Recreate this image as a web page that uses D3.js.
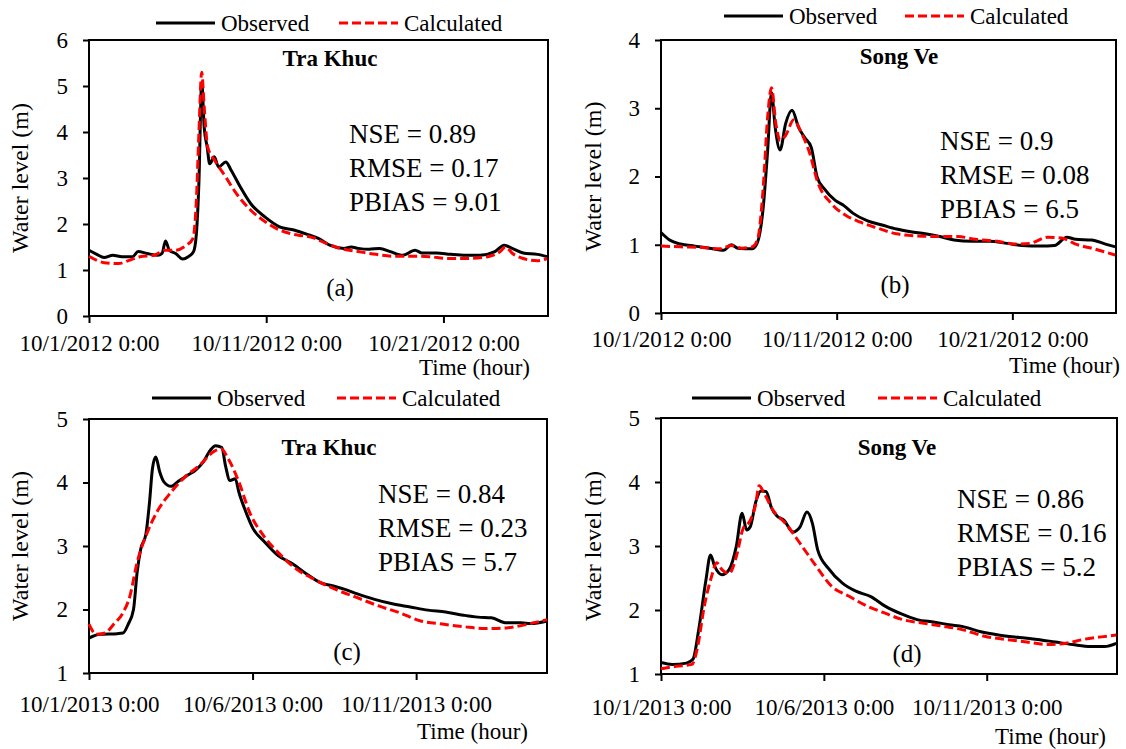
<!DOCTYPE html>
<html>
<head>
<meta charset="utf-8">
<script src="https://cdn.jsdelivr.net/npm/d3@7"></script>
<style>
  body { margin: 0; background: #fff; }
  text { font-family: "Liberation Serif", "Times New Roman", serif; fill: #000; }
</style>
</head>
<body>
<div id="chart"></div>
<script>
// day offset from start, water level (m)
const obsA = [[0,1.43],[0.44,1.34],[0.85,1.27],[1.35,1.32],[1.86,1.29],[2.46,1.29],[2.77,1.4],[3.27,1.36],[3.88,1.32],[4.12,1.36],[4.32,1.63],[4.53,1.43],[4.89,1.36],[5.29,1.24],[5.6,1.29],[5.9,1.4],[6.06,1.79],[6.2,2.88],[6.36,5.08],[6.5,4.1],[6.67,3.67],[6.81,3.31],[7.07,3.46],[7.31,3.24],[7.72,3.35],[8.02,3.17],[8.53,2.81],[9.13,2.44],[9.94,2.15],[10.75,1.94],[11.56,1.87],[12.36,1.77],[12.97,1.68],[13.58,1.54],[14.38,1.47],[14.79,1.5],[15.19,1.47],[15.8,1.45],[16.4,1.47],[17.0,1.4],[17.7,1.32],[18.4,1.43],[18.8,1.37],[19.6,1.37],[20.4,1.34],[21.25,1.32],[22.06,1.32],[22.9,1.4],[23.43,1.54],[23.88,1.47],[24.5,1.37],[25.3,1.34],[25.85,1.29]];
const calA = [[0,1.3],[0.85,1.16],[1.66,1.14],[2.26,1.21],[2.87,1.29],[3.68,1.32],[4.28,1.43],[4.89,1.43],[5.5,1.54],[5.86,1.68],[6.06,2.52],[6.2,3.96],[6.36,5.3],[6.5,4.54],[6.7,3.67],[7.1,3.38],[7.72,3.02],[8.32,2.66],[9.13,2.3],[9.94,2.05],[10.75,1.87],[11.76,1.76],[12.57,1.71],[13.37,1.58],[14.38,1.45],[15.19,1.4],[16.2,1.34],[17.2,1.3],[18.2,1.3],[19.2,1.29],[20.2,1.25],[21.25,1.25],[22.5,1.29],[23.2,1.4],[23.5,1.5],[23.9,1.36],[24.5,1.25],[25.3,1.2],[25.85,1.25]];

const obsB = [[0,1.18],[0.49,1.07],[1.1,1.01],[1.93,0.98],[2.75,0.95],[3.57,0.92],[4.0,1.0],[4.38,0.95],[5.2,0.94],[5.5,1.04],[5.82,1.55],[6.07,2.38],[6.29,3.23],[6.5,2.72],[6.78,2.39],[7.09,2.77],[7.46,2.97],[7.83,2.72],[8.18,2.57],[8.55,2.43],[8.89,1.99],[9.3,1.82],[9.92,1.65],[10.43,1.57],[10.94,1.46],[11.76,1.35],[12.58,1.29],[13.4,1.23],[14.22,1.19],[15.04,1.16],[15.86,1.12],[16.68,1.07],[17.7,1.05],[18.7,1.05],[19.7,1.02],[20.55,0.99],[21.6,0.98],[22.4,0.99],[23.1,1.11],[23.6,1.08],[24.5,1.07],[25.3,1.01],[25.85,0.97]];
const calB = [[0,0.98],[1.1,0.97],[2.34,0.96],[3.36,0.94],[4.0,0.99],[4.59,0.95],[5.2,0.97],[5.5,1.08],[5.82,1.84],[6.07,2.87],[6.29,3.3],[6.54,2.77],[6.78,2.53],[7.09,2.6],[7.56,2.83],[7.97,2.65],[8.48,2.33],[8.89,1.94],[9.71,1.6],[10.53,1.43],[11.35,1.33],[12.37,1.24],[13.4,1.16],[14.6,1.13],[15.86,1.12],[16.9,1.12],[17.9,1.08],[19.15,1.05],[20.2,1.01],[21.0,1.02],[22.0,1.11],[22.8,1.1],[23.6,1.01],[24.65,0.94],[25.85,0.85]];

const obsC = [[0,1.55],[0.33,1.61],[0.87,1.62],[1.04,1.63],[1.2,1.77],[1.36,2.0],[1.47,2.58],[1.58,2.95],[1.74,3.19],[1.85,3.69],[1.94,4.22],[2.04,4.4],[2.16,4.17],[2.29,4.01],[2.51,3.94],[2.73,4.02],[3.0,4.11],[3.27,4.2],[3.49,4.32],[3.71,4.51],[3.87,4.58],[4.06,4.55],[4.17,4.27],[4.31,4.03],[4.47,4.06],[4.58,3.85],[4.8,3.53],[5.02,3.27],[5.34,3.08],[5.78,2.85],[6.22,2.72],[6.65,2.56],[7.09,2.42],[7.47,2.37],[7.8,2.32],[8.18,2.25],[8.73,2.16],[9.27,2.09],[9.82,2.04],[10.36,1.99],[10.9,1.96],[11.45,1.91],[11.89,1.88],[12.3,1.87],[12.76,1.79],[13.2,1.79],[13.5,1.78],[14.0,1.82]];
const calC = [[0,1.77],[0.22,1.61],[0.49,1.63],[0.76,1.77],[1.04,1.95],[1.25,2.21],[1.47,2.74],[1.74,3.16],[2.07,3.53],[2.51,3.85],[2.94,4.09],[3.38,4.27],[3.82,4.49],[4.04,4.53],[4.25,4.38],[4.58,4.01],[4.91,3.53],[5.34,3.16],[5.78,2.9],[6.33,2.64],[6.87,2.48],[7.52,2.32],[8.18,2.19],[8.83,2.06],[9.49,1.95],[10.14,1.82],[10.8,1.77],[11.45,1.73],[12.1,1.7],[12.76,1.71],[13.42,1.77],[14.0,1.84]];

const obsD = [[0,1.18],[0.35,1.15],[0.78,1.17],[0.98,1.23],[1.16,1.7],[1.38,2.47],[1.52,2.86],[1.65,2.68],[1.87,2.55],[2.09,2.63],[2.31,2.99],[2.49,3.51],[2.63,3.25],[2.74,3.3],[2.91,3.69],[3.07,3.86],[3.23,3.85],[3.39,3.6],[3.56,3.47],[3.78,3.4],[4.05,3.22],[4.27,3.3],[4.48,3.53],[4.65,3.35],[4.81,2.94],[5.14,2.65],[5.57,2.42],[6.0,2.29],[6.44,2.21],[6.88,2.06],[7.42,1.93],[7.86,1.85],[8.4,1.81],[8.84,1.77],[9.27,1.74],[9.82,1.66],[10.36,1.61],[11.01,1.57],[11.56,1.54],[12.1,1.5],[12.64,1.46],[13.19,1.43],[13.62,1.43],[13.98,1.48]];
const calD = [[0,1.08],[0.46,1.12],[0.95,1.15],[1.11,1.39],[1.33,2.06],[1.55,2.52],[1.71,2.74],[1.87,2.63],[2.09,2.57],[2.31,2.83],[2.52,3.27],[2.74,3.4],[2.91,3.66],[3.01,3.94],[3.18,3.81],[3.45,3.55],[3.83,3.35],[4.27,3.04],[4.7,2.73],[5.24,2.37],[5.79,2.21],[6.33,2.06],[6.88,1.95],[7.42,1.85],[7.97,1.8],[8.62,1.75],[9.27,1.69],[9.93,1.59],[10.58,1.54],[11.23,1.5],[11.88,1.46],[12.43,1.48],[12.97,1.54],[13.52,1.58],[13.98,1.61]];

const stations = ["Tra Khuc", "Song Ve", "Tra Khuc", "Song Ve"];
const panelLabels = ["(a)", "(b)", "(c)", "(d)"];
const statsText = [
  ["NSE = 0.89", "RMSE = 0.17", "PBIAS = 9.01"],
  ["NSE = 0.9", "RMSE = 0.08", "PBIAS = 6.5"],
  ["NSE = 0.84", "RMSE = 0.23", "PBIAS = 5.7"],
  ["NSE = 0.86", "RMSE = 0.16", "PBIAS = 5.2"]
];
const startDates = [new Date(2012, 9, 1), new Date(2012, 9, 1), new Date(2013, 9, 1), new Date(2013, 9, 1)];
const spanDays = [25.9, 25.9, 14, 14];
const tickDays = [[0, 10, 20], [0, 10, 20], [0, 5, 10], [0, 5, 10]];
const yDomains = [[0, 6], [0, 4], [1, 5], [1, 5]];

const DAY = 864e5;
const W = 1126, H = 749;

const svg = d3.select("#chart").append("svg")
    .attr("width", W)
    .attr("height", H);

// layout of each panel (pixels)
const panels = [
  { l: 89, r: 548, t: 40, b: 316, xPad: 12, obs: obsA, cal: calA, legY: 23, legObs: 156, legCal: 339,
    titleX: 330, titleY: 66, statX: 349, statY: 143, labX: 340, labY: 296, timeX: 530, timeY: 375, ylabX: 20 },
  { l: 661, r: 1116, t: 40, b: 313, xPad: 11, obs: obsB, cal: calB, legY: 16, legObs: 724, legCal: 905,
    titleX: 899, titleY: 64, statX: 940, statY: 150, labX: 895, labY: 293, timeX: 1120, timeY: 373, ylabX: 593 },
  { l: 89, r: 547, t: 419, b: 673, xPad: 16, obs: obsC, cal: calC, legY: 398, legObs: 152, legCal: 337,
    titleX: 329, titleY: 455, statX: 378, statY: 503, labX: 347, labY: 660, timeX: 528, timeY: 739, ylabX: 20 },
  { l: 661, r: 1117, t: 418, b: 674, xPad: 18, obs: obsD, cal: calD, legY: 398, legObs: 692, legCal: 878,
    titleX: 897, titleY: 455, statX: 957, statY: 508, labX: 907, labY: 662, timeX: 1106, timeY: 744, ylabX: 593 }
];

const fmt = d3.timeFormat("%-m/%-d/%Y %-H:%M");

panels.forEach((p, i) => {
    const start = startDates[i];
    const toDate = d => new Date(start.getTime() + d * DAY);

    const x = d3.scaleTime()
        .domain([start, toDate(spanDays[i])])
        .range([p.l, p.r]);
    const y = d3.scaleLinear()
        .domain(yDomains[i])
        .range([p.b, p.t]);

    const g = svg.append("g");

    // y axis
    const yAxis = g.append("g")
        .attr("transform", `translate(${p.l},0)`)
        .call(d3.axisLeft(y).ticks(yDomains[i][1] - yDomains[i][0]).tickSize(6).tickPadding(15).tickFormat(d3.format("d")));
    yAxis.select(".domain").remove();
    yAxis.selectAll("line").attr("stroke-width", 2);
    yAxis.selectAll("text").attr("font-size", 23);

    // x axis
    const xAxis = g.append("g")
        .attr("transform", `translate(0,${p.b})`)
        .call(d3.axisBottom(x).tickValues(tickDays[i].map(toDate)).tickSize(7).tickPadding(p.xPad).tickFormat(fmt));
    xAxis.select(".domain").remove();
    xAxis.selectAll("line").attr("stroke-width", 2);
    xAxis.selectAll("text").attr("font-size", 23);

    // frame
    g.append("rect")
        .attr("x", p.l).attr("y", p.t)
        .attr("width", p.r - p.l).attr("height", p.b - p.t)
        .attr("fill", "none").attr("stroke", "#000").attr("stroke-width", 2);

    const line = d3.line()
        .x(d => x(toDate(d[0])))
        .y(d => y(d[1]))
        .curve(d3.curveMonotoneX);

    g.append("path")
        .datum(p.obs)
        .attr("d", line)
        .attr("fill", "none")
        .attr("stroke", "#000")
        .attr("stroke-width", 3);

    g.append("path")
        .datum(p.cal)
        .attr("d", line)
        .attr("fill", "none")
        .attr("stroke", "#ff0000")
        .attr("stroke-width", 3)
        .attr("stroke-dasharray", "9,4");

    // legend
    g.append("line")
        .attr("x1", p.legObs).attr("x2", p.legObs + 59)
        .attr("y1", p.legY).attr("y2", p.legY)
        .attr("stroke", "#000").attr("stroke-width", 3);
    g.append("text")
        .attr("x", p.legObs + 65).attr("y", p.legY + 8)
        .attr("font-size", 23)
        .text("Observed");
    g.append("line")
        .attr("x1", p.legCal).attr("x2", p.legCal + 59)
        .attr("y1", p.legY).attr("y2", p.legY)
        .attr("stroke", "#ff0000").attr("stroke-width", 3)
        .attr("stroke-dasharray", "9,4");
    g.append("text")
        .attr("x", p.legCal + 65).attr("y", p.legY + 8)
        .attr("font-size", 23)
        .text("Calculated");

    // station title
    g.append("text")
        .attr("x", p.titleX).attr("y", p.titleY)
        .attr("text-anchor", "middle")
        .attr("font-size", 23)
        .attr("font-weight", "bold")
        .text(stations[i]);

    // statistics
    statsText[i].forEach((s, k) => {
        g.append("text")
            .attr("x", p.statX).attr("y", p.statY + k * 34)
            .attr("font-size", 27)
            .text(s);
    });

    // panel label
    g.append("text")
        .attr("x", p.labX).attr("y", p.labY)
        .attr("text-anchor", "middle")
        .attr("font-size", 25)
        .text(panelLabels[i]);

    // axis titles
    g.append("text")
        .attr("x", p.timeX).attr("y", p.timeY)
        .attr("text-anchor", "end")
        .attr("font-size", 23)
        .text("Time (hour)");

    g.append("text")
        .attr("transform", `translate(${p.ylabX},${(p.t + p.b) / 2}) rotate(-90)`)
        .attr("text-anchor", "middle")
        .attr("dy", "0.35em")
        .attr("font-size", 24)
        .text("Water level (m)");
});
</script>
</body>
</html>
